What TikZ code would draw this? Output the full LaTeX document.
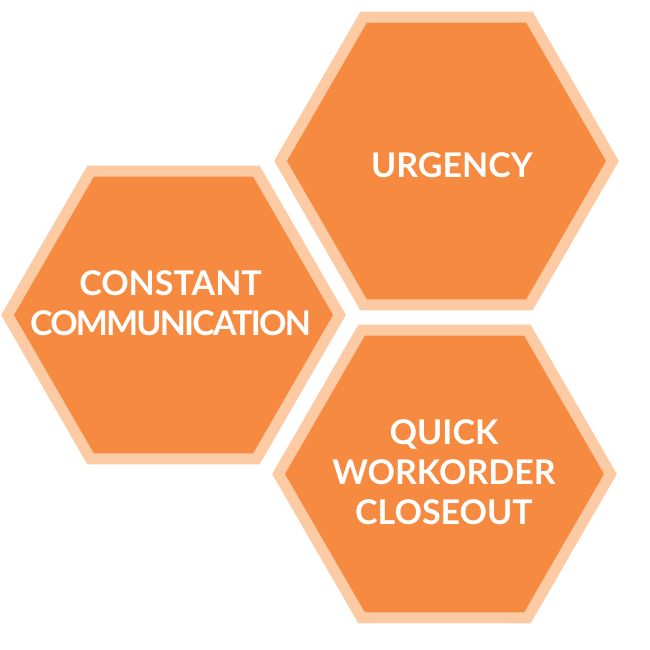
\documentclass[tikz,border=0pt]{standalone}
\usepackage{fontspec}
\setmainfont{Lato}
\usepackage{tikz}
\usetikzlibrary{shapes.geometric}

\definecolor{hexorange}{RGB}{246,138,64}
\definecolor{hexpeach}{RGB}{252,203,164}

\begin{document}
\begin{tikzpicture}
		[x=1pt,y=-1pt,line join=miter,
		%Styles
		hexagon/.style={regular polygon,regular polygon sides=6,minimum size=332pt,
			inner sep=0pt,fill=hexorange,draw=hexpeach,line width=11pt},
		hex text/.style={text=white,font=\fontsize{34}{40}\selectfont\bfseries,
			align=center,inner sep=0pt}
		]
		
		%Canvas
		\useasboundingbox (0,0) rectangle (650,650);
		
		%The graphic
		\node[hexagon] (urgency) at (446.5,161) {};
		\node[hexagon] (constant) at (173.5,315) {};
		\node[hexagon] (quick) at (444.5,474) {};
		
		\node[hex text] (urgency text) at (452,165.5) {URGENCY};
		\node[hex text] (constant text) at (170.5,303.5)
			{CONSTANT\\{\addfontfeatures{LetterSpace=-5.5}COMMUNICATION}};
		\node[hex text] (quick text) at (444,472.5) {QUICK\\WORKORDER\\CLOSEOUT};
	\end{tikzpicture}
\end{document}
